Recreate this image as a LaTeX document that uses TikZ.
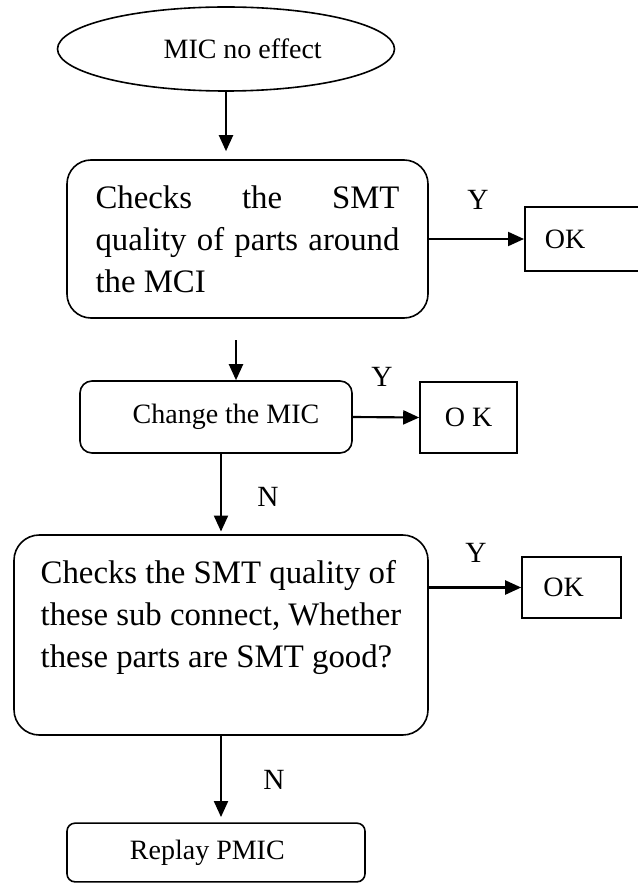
\documentclass[tikz,border=0pt]{standalone}
\usepackage{fontspec}
\setmainfont{Liberation Serif}
\usetikzlibrary{shapes.geometric,arrows.meta,positioning,calc}

\begin{document}
\begin{tikzpicture}[x=0.75pt,y=-0.75pt,
    flow/.style={line width=1.6pt,-{Triangle[length=12pt,width=10.5pt]}},
    bigbox/.style={draw,line width=1.2pt,rounded corners=18pt,inner sep=0pt,font=\fontsize{24.6}{31.5}\selectfont},
    smallbox/.style={draw,line width=1.2pt,rounded corners=9pt,inner sep=0pt,font=\fontsize{21}{25}\selectfont},
    okbox/.style={draw,line width=1.2pt,inner sep=0pt,font=\fontsize{21}{25}\selectfont},
    lbl/.style={font=\fontsize{22}{25}\selectfont}]
    \useasboundingbox (0,0) rectangle (637,884);
    % Start
    \node[draw,ellipse,line width=1.2pt,minimum width=252.75pt,minimum height=63pt,inner sep=0pt,font=\fontsize{21}{25}\selectfont] (start) at (226,49) {\hspace*{25pt}MIC no effect};
    % Checks
    \node[bigbox,minimum width=270.75pt,minimum height=118.5pt,text width=228pt,align=justify] (chk1) at (247.5,239) {Checks the SMT\linebreak quality of parts around\linebreak the MCI};
    \node[okbox,anchor=west,minimum height=48pt,text width=75pt,inner xsep=15pt,align=left] (ok1) at (524,239) {OK};
    \node[smallbox,minimum width=204pt,minimum height=54pt] (chg) at (216,417) {\hspace*{15pt}Change the MIC};
    \node[okbox,minimum width=72.75pt,minimum height=53.25pt] (ok2) at (468.5,417.5) {O K};
    \node[bigbox,rounded corners=19pt,minimum width=310.5pt,minimum height=150pt,align=left] (chk2) at (221,635) {Checks the SMT quality of\\ these sub connect, Whether\\ these parts are SMT good?\\ \mbox{}};
    \node[okbox,minimum width=74.25pt,minimum height=45.75pt] (ok3) at (571.5,587.5) {OK\hspace*{12pt}};
    \node[smallbox,rounded corners=6pt,minimum width=223.5pt,minimum height=44pt] (rep) at (216,852.5) {Replay PMIC\hspace*{13pt}};
    % Arrows
    \coordinate (gap) at (236,340);
    \draw[flow,shorten >=6pt] (start.south) -- (start.south |- chk1.north);
    \draw[flow] (chk1.east) -- (ok1.west);
    \draw[flow] (gap) -- (gap |- chg.north);
    \draw[flow] (chg.east) -- (ok2.west);
    \draw[flow,shorten >=2pt] (chk2.north |- chg.south) -- (chk2.north);
    \draw[flow] (chk2.east |- ok3.west) -- (ok3.west);
    \draw[flow,shorten >=4pt] (chk2.south) -- (chk2.south |- rep.north);
    % Y / N
    \node[lbl] (y1) at (478,200) {Y};
    \node[lbl] (y2) at (382,377) {Y};
    \node[lbl] (y3) at (476,553) {Y};
    \node[lbl] (n1) at (268,497) {N};
    \node[lbl] (n2) at (274,780) {N};
\end{tikzpicture}
\end{document}
